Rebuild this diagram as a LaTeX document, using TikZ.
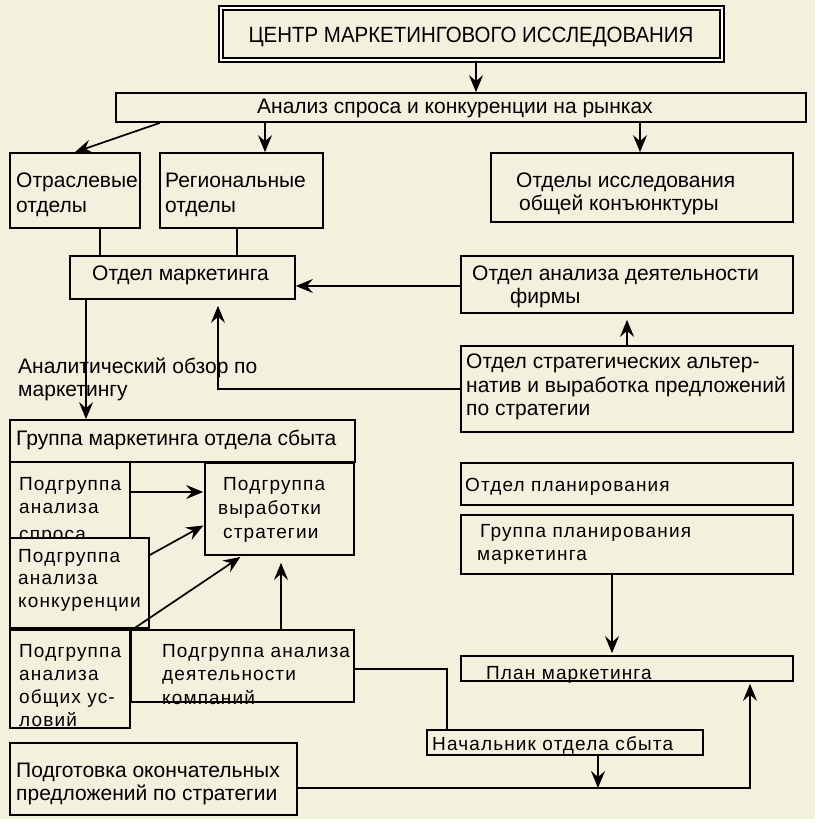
\documentclass[tikz,border=0pt]{standalone}
\usepackage{fontspec}
\setmainfont{Liberation Sans}
\newfontfamily\spacedfont[LetterSpace=6]{Liberation Sans}
\newfontfamily\titlefont[FakeStretch=0.93]{Liberation Sans}
\usetikzlibrary{arrows.meta,fit}
\definecolor{paper}{RGB}{243,240,222}
\newcommand\mkbox[6][]{%
  \coordinate (#2-a) at (#3,#4);
  \coordinate (#2-b) at (#5,#6);
  \node[box,fit=(#2-a)(#2-b),#1] (#2) {};}
\begin{document}
\begin{tikzpicture}[x=1pt,y=-1pt,
  box/.style={draw=black,line width=1.7pt,fill=paper,inner sep=0pt},
  conn/.style={draw=black,line width=1.7pt},
  arr/.style={conn,-{Stealth[length=17pt,width=14pt,inset=6pt]}},
  txt/.style={anchor=base west,inner sep=0pt,font=\fontsize{21}{24}\selectfont},
  stx/.style={anchor=base west,inner sep=0pt,font=\spacedfont\fontsize{19}{24}\selectfont},
]
\useasboundingbox (0,0) rectangle (823,826);
\fill[white] (0,0) rectangle (823,826);
\fill[paper] (0,0) rectangle (815,819);

% guide coordinates
\foreach \n/\v in {g75/75,g86/86,g100/100,g133/133,g160/160,g218/218,g237/237,g242/242,g265/265,g281/281,g447/447,g476/476,g598/598,g612/612,g627/627,g640/640,g750/750}
  {\coordinate (\n) at (\v,0);}
\foreach \n/\v in {h286/286,h389/389,h492/492,h525/525,h555/555,h669/669,h788/788}
  {\coordinate (\n) at (0,\v);}

% boxes
\mkbox[double,double distance=2.5pt,line width=1.3pt]{top}{221}{8}{722}{60}
\node[anchor=base,inner sep=0pt,font=\titlefont\fontsize{22}{26}\selectfont] (ttl) at (471,43) {ЦЕНТР МАРКЕТИНГОВОГО ИССЛЕДОВАНИЯ};

\mkbox{bar}{116}{93}{806}{122}
\node[txt] (tbar) at (257,114) {Анализ спроса и конкуренции на рынках};

\mkbox{otr}{10}{153}{140}{228}
\node[txt] (totr1) at (16,188) {Отраслевые};
\node[txt] (totr2) at (16,212) {отделы};

\mkbox{reg}{160}{153}{323}{228}
\node[txt] (treg1) at (165,188) {Региональные};
\node[txt] (treg2) at (165,212) {отделы};

\mkbox{obsh}{491}{153}{793}{222}
\node[txt] (tobsh1) at (516,188) {Отделы исследования};
\node[txt] (tobsh2) at (519,211) {общей конъюнктуры};

\mkbox{mkt}{70}{256}{295}{299}
\node[txt] (tmkt) at (92,280) {Отдел маркетинга};

\mkbox{anal}{461}{256}{793}{313}
\node[txt] (tanal1) at (472,280) {Отдел анализа деятельности};
\node[txt] (tanal2) at (510,303) {фирмы};

\mkbox{strat}{461}{346}{793}{432}
\node[txt] (tstrat1) at (466,368) {Отдел стратегических альтер-};
\node[txt] (tstrat2) at (466,392) {натив и выработка предложений};
\node[txt] (tstrat3) at (466,415) {по стратегии};

\mkbox{grp}{10}{420}{355}{462}
\node[txt] (tgrp) at (16,445) {Группа маркетинга отдела сбыта};

\mkbox{spros}{10}{462}{130}{545}
\node[stx] (tspros1) at (19,490) {Подгруппа};
\node[stx] (tspros2) at (19,513) {анализа};
\node[stx] (tspros3) at (19,540) {спроса};

\mkbox{konk}{10}{538}{149}{628}
\node[stx] (tkonk1) at (18,562) {Подгруппа};
\node[stx] (tkonk2) at (18,584) {анализа};
\node[stx] (tkonk3) at (18,607) {конкуренции};

\mkbox{obshch}{10}{630}{130}{728}
\node[stx] (tobc1) at (19,657) {Подгруппа};
\node[stx] (tobc2) at (19,680) {анализа};
\node[stx] (tobc3) at (19,703) {общих ус-};
\node[stx] (tobc4) at (19,726) {ловий};

\mkbox{strg}{205}{463}{354}{555}
\node[stx] (tstrg1) at (223,490) {Подгруппа};
\node[stx] (tstrg2) at (218,514) {выработки};
\node[stx] (tstrg3) at (223,538) {стратегии};

\mkbox{deyat}{131}{630}{354}{702}
\node[stx] (tdey1) at (162,657) {Подгруппа анализа};
\node[stx] (tdey2) at (162,680) {деятельности};
\node[stx] (tdey3) at (162,704) {компаний};

\mkbox{pldept}{461}{463}{793}{505}
\node[stx] (tpld) at (465,491) {Отдел планирования};

\mkbox{gplan}{461}{515}{793}{574}
\node[stx] (tgpl1) at (480,537) {Группа планирования};
\node[stx] (tgpl2) at (477,560) {маркетинга};

\mkbox{plan}{461}{656}{793}{681}
\node[stx] (tplan) at (486,679) {План маркетинга};

\mkbox{nach}{427}{730}{703}{755}
\node[stx] (tnach) at (432,750) {Начальник отдела сбыта};

\mkbox{podg}{10}{743}{297}{815}
\node[txt] (tpodg1) at (16,777) {Подготовка окончательных};
\node[txt] (tpodg2) at (16,800) {предложений по стратегии};

% connectors
\draw[arr] (top.south -| g476) -- (bar.north -| g476);
\draw[arr] (bar.south -| g160) -- (otr.north -| g75);
\draw[arr] (bar.south -| g265) -- (reg.north -| g265);
\draw[arr] (bar.south -| g640) -- (obsh.north -| g640);
\draw[conn] (otr.south -| g100) -- (mkt.north -| g100);
\draw[conn] (reg.south -| g237) -- (mkt.north -| g237);
\draw[arr] (anal.west |- h286) -- (mkt.east |- h286);
\draw[arr,shorten >=6pt] (strat.north -| g627) -- (anal.south -| g627);
\draw[arr,shorten >=6pt] (strat.west |- h389) -- (g218 |- h389) -- (mkt.south -| g218);
\draw[arr] (mkt.south -| g86) -- (grp.north -| g86);
\node[txt] (tlab1) at (18,373) {Аналитический обзор по};
\node[txt] (tlab2) at (18,396) {маркетингу};
\draw[arr,shorten >=1pt] (spros.east |- h492) -- (strg.west |- h492);
\draw[arr,shorten >=1pt] (konk.east |- h555) -- (strg.west |- h525);
\draw[arr,shorten >=2pt] (g133 |- obshch.north) -- (strg.south -| g242);
\draw[arr,shorten >=7pt] (deyat.north -| g281) -- (strg.south -| g281);
\draw[conn] (deyat.east |- h669) -- (g447 |- h669) -- (nach.north -| g447);
\draw[arr,shorten >=2pt] (gplan.south -| g612) -- (plan.north -| g612);
\coordinate (join) at (598,788);
\draw[arr] (nach.south -| g598) -- (join);
\draw[arr,shorten >=2pt] (podg.east |- h788) -- (g750 |- h788) -- (plan.south -| g750);
\end{tikzpicture}
\end{document}
